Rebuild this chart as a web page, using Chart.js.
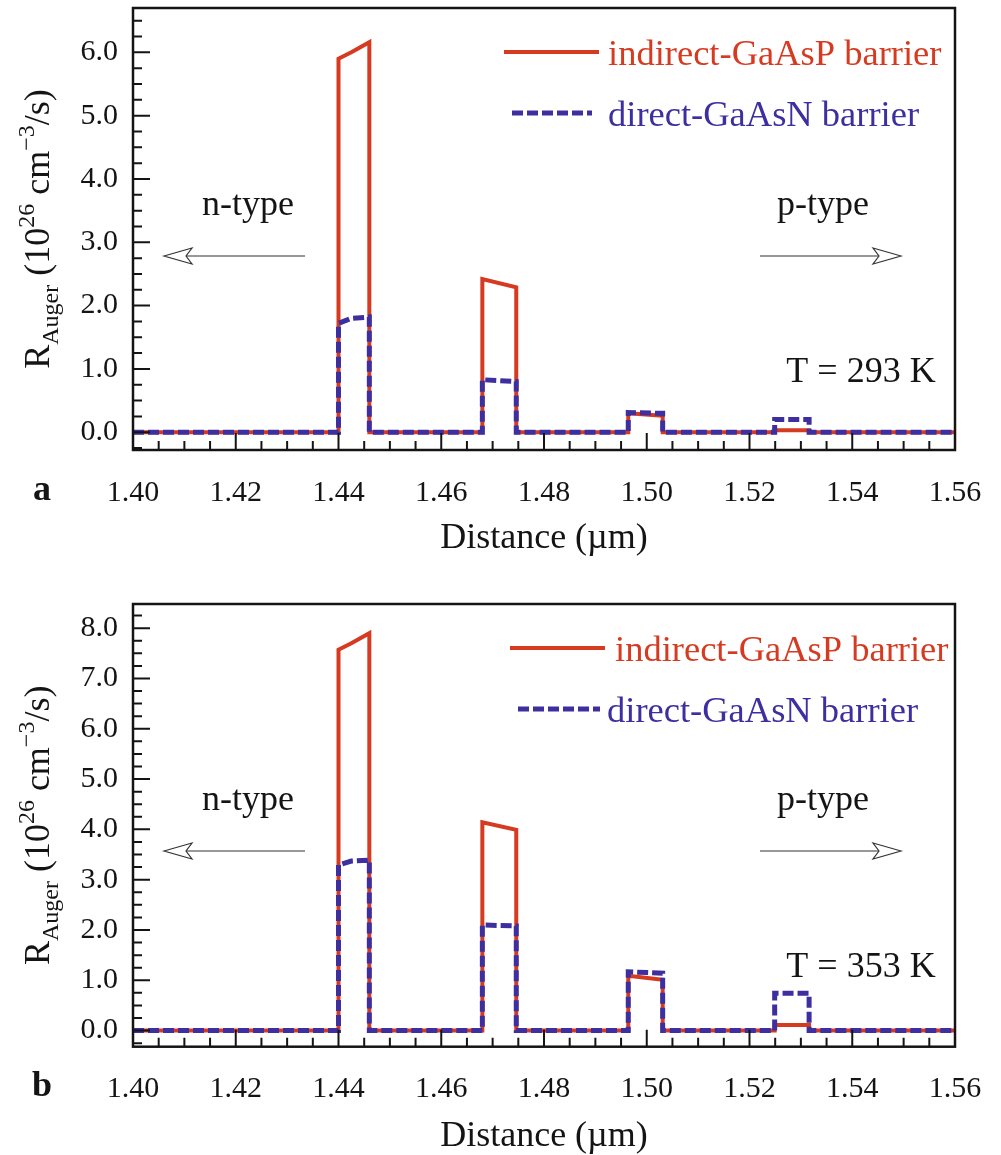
<!DOCTYPE html>
<html>
<head>
<meta charset="utf-8">
<script src="https://cdn.jsdelivr.net/npm/chart.js@4.4.1/dist/chart.umd.min.js"></script>
<style>
  body { margin: 0; background: #fff; }
  canvas { display: block; }
</style>
</head>
<body>
<canvas id="chartA" width="1001" height="575"></canvas>
<canvas id="chartB" width="1001" height="580"></canvas>
<script>
// distance (µm) where the curves change
var distance = [1.400, 1.440, 1.440, 1.4425, 1.446, 1.446, 1.468, 1.468, 1.4746, 1.4746,
  1.4964, 1.4964, 1.5031, 1.5031, 1.5249, 1.5249, 1.5316, 1.5316, 1.560];

// panel a, T = 293 K
var gaasp293 = [0, 0, 5.90, 6.00, 6.16, 0, 0, 2.42, 2.29, 0, 0, 0.30, 0.26, 0, 0, 0.03, 0.03, 0, 0];
var gaasn293 = [0, 0, 1.72, 1.80, 1.82, 0, 0, 0.83, 0.80, 0, 0, 0.31, 0.30, 0, 0, 0.20, 0.20, 0, 0];

// panel b, T = 353 K
var gaasp353 = [0, 0, 7.57, 7.70, 7.90, 0, 0, 4.14, 3.99, 0, 0, 1.09, 1.01, 0, 0, 0.11, 0.11, 0, 0];
var gaasn353 = [0, 0, 3.29, 3.37, 3.39, 0, 0, 2.10, 2.08, 0, 0, 1.17, 1.14, 0, 0, 0.74, 0.74, 0, 0];

var xTickValues = [1.40, 1.42, 1.44, 1.46, 1.48, 1.50, 1.52, 1.54, 1.56];
var yTicks293 = [0, 1, 2, 3, 4, 5, 6];
var yTicks353 = [0, 1, 2, 3, 4, 5, 6, 7, 8];

var seriesNames = ['indirect-GaAsP barrier', 'direct-GaAsN barrier'];

var RED = '#d63b21';
var BLUE = '#3d2f9f';
var INK = '#141414';
var SERIF = '"Liberation Serif", "Times New Roman", serif';

function toPoints(xs, ys) {
  return xs.map(function (x, i) { return { x: x, y: ys[i] }; });
}

function drawArrow(ctx, tail, tip, y) {
  var dir = tip > tail ? 1 : -1;
  var back = tip - dir * 28, notch = tip - dir * 22;
  ctx.beginPath();
  ctx.moveTo(tail, y);
  ctx.lineTo(notch, y);
  ctx.stroke();
  ctx.beginPath();
  ctx.moveTo(tip, y);
  ctx.lineTo(back, y - 8);
  ctx.lineTo(notch, y);
  ctx.lineTo(back, y + 8);
  ctx.closePath();
  ctx.fillStyle = '#fff';
  ctx.fill();
  ctx.stroke();
}

// draws a rotated title with sub/superscripts, baseline at x = bx
function drawRich(ctx, parts, bx, cy) {
  var total = 0;
  parts.forEach(function (p) {
    ctx.font = p[1] + 'px ' + SERIF;
    p.w = ctx.measureText(p[0]).width;
    total += p.w;
  });
  ctx.save();
  ctx.translate(bx, cy);
  ctx.rotate(-Math.PI / 2);
  ctx.fillStyle = INK;
  ctx.textBaseline = 'alphabetic';
  var x = -total / 2;
  parts.forEach(function (p) {
    ctx.font = p[1] + 'px ' + SERIF;
    ctx.fillText(p[0], x, p[2]);
    x += p.w;
  });
  ctx.restore();
}

var panelPlugin = {
  id: 'panel',
  afterDraw: function (chart) {
    var p = chart.options.plugins.panel;
    var ctx = chart.ctx, a = chart.chartArea;
    var xs = chart.scales.x, ys = chart.scales.y;
    ctx.save();

    // inward ticks, majors and minors
    ctx.strokeStyle = INK;
    ctx.lineWidth = 2;
    ctx.beginPath();
    var n = Math.round((xs.max - xs.min) / 0.005);
    for (var i = 0; i <= n; i++) {
      var px = xs.getPixelForValue(xs.min + i * 0.005);
      var len = i % 4 === 0 ? 17 : 9;
      ctx.moveTo(px, a.bottom);
      ctx.lineTo(px, a.bottom - len);
    }
    for (var v = Math.ceil(ys.min / 0.25) * 0.25; v <= ys.max + 1e-9; v += 0.25) {
      var py = ys.getPixelForValue(v);
      var major = Math.abs(v - Math.round(v)) < 1e-6;
      ctx.moveTo(a.left, py);
      ctx.lineTo(a.left + (major ? 17 : 9), py);
    }
    ctx.stroke();

    // frame
    ctx.lineWidth = 2.5;
    ctx.strokeRect(a.left, a.top, a.right - a.left, a.bottom - a.top);

    // legend inside the plot
    chart.data.datasets.forEach(function (ds, k) {
      var lg = p.legend[k];
      ctx.strokeStyle = ds.borderColor;
      ctx.lineWidth = ds.borderWidth;
      ctx.setLineDash(ds.borderDash || []);
      ctx.beginPath();
      ctx.moveTo(lg.x0, lg.y);
      ctx.lineTo(lg.x1, lg.y);
      ctx.stroke();
      ctx.setLineDash([]);
      ctx.fillStyle = ds.borderColor;
      ctx.font = '36.5px ' + SERIF;
      ctx.textAlign = 'left';
      ctx.textBaseline = 'alphabetic';
      ctx.fillText(ds.label, lg.tx, lg.y + 13);
    });

    // n-type / p-type arrows and temperature
    ctx.fillStyle = INK;
    ctx.font = '36px ' + SERIF;
    ctx.textAlign = 'center';
    ctx.fillText('n-type', 248, p.typeY);
    ctx.fillText('p-type', 823, p.typeY);
    ctx.fillText(p.temp, 861, p.tempY);
    ctx.strokeStyle = '#333';
    ctx.lineWidth = 1.2;
    drawArrow(ctx, 305, 164, p.arrowY);
    drawArrow(ctx, 760, 901, p.arrowY);

    // panel letter
    ctx.fillStyle = INK;
    ctx.font = 'bold 36px ' + SERIF;
    ctx.fillText(p.letter, 42, p.letterY);

    ctx.restore();

    drawRich(ctx, [
      ['R', 36, 0], ['Auger', 24, 9], [' (10', 36, 0], ['26', 24, -15],
      [' cm', 36, 0], ['\u22123', 24, -15], ['/s)', 36, 0]
    ], 49, (a.top + a.bottom) / 2);
  }
};

function makeChart(id, red, blue, yMin, yMax, yTicks, padTop, xAxisHeight, tickPad, titlePad, panel) {
  return new Chart(document.getElementById(id).getContext('2d'), {
    type: 'line',
    data: {
      datasets: [
        {
          label: seriesNames[0],
          data: toPoints(distance, red),
          borderColor: RED,
          borderWidth: 4,
          borderJoinStyle: 'miter',
          pointRadius: 0,
          tension: 0,
          order: 2
        },
        {
          label: seriesNames[1],
          data: toPoints(distance, blue),
          borderColor: BLUE,
          borderWidth: 5,
          borderDash: [11, 4],
          borderJoinStyle: 'miter',
          pointRadius: 0,
          tension: 0,
          order: 1
        }
      ]
    },
    options: {
      responsive: false,
      animation: false,
      layout: { padding: { left: 0, right: 46, top: padTop, bottom: 0 } },
      plugins: {
        legend: { display: false },
        tooltip: { enabled: false },
        panel: panel
      },
      scales: {
        x: {
          type: 'linear',
          min: 1.40,
          max: 1.56,
          afterBuildTicks: function (scale) {
            scale.ticks = xTickValues.map(function (v) { return { value: v }; });
          },
          afterFit: function (scale) {
            scale.height = xAxisHeight;
            scale.paddingLeft = 0;
            scale.paddingRight = 0;
          },
          grid: { display: false, drawTicks: false },
          border: { display: false },
          ticks: {
            padding: tickPad,
            color: INK,
            font: { family: SERIF, size: 30 },
            maxRotation: 0,
            callback: function (v) { return v.toFixed(2); }
          },
          title: {
            display: true,
            text: 'Distance (\u00b5m)',
            color: INK,
            font: { family: SERIF, size: 36, lineHeight: 1 },
            padding: { top: 0, bottom: titlePad }
          }
        },
        y: {
          min: yMin,
          max: yMax,
          afterBuildTicks: function (scale) {
            scale.ticks = yTicks.map(function (v) { return { value: v }; });
          },
          afterFit: function (scale) {
            scale.width = 133;
            scale.paddingTop = 0;
            scale.paddingBottom = 0;
          },
          grid: { display: false, drawTicks: false },
          border: { display: false },
          ticks: {
            padding: 15,
            color: INK,
            font: { family: SERIF, size: 30 },
            callback: function (v) { return v.toFixed(1); }
          }
        }
      }
    },
    plugins: [panelPlugin]
  });
}

makeChart('chartA', gaasp293, gaasn293, -0.28, 6.70, yTicks293, 8, 125, 25, 18, {
  letter: 'a', letterY: 500,
  temp: 'T = 293 K', tempY: 382,
  typeY: 215, arrowY: 256,
  legend: [
    { x0: 504, x1: 599, y: 52, tx: 608 },
    { x0: 512, x1: 592, y: 113, tx: 608 }
  ]
});

makeChart('chartB', gaasp353, gaasn353, -0.32, 8.48, yTicks353, 29, 108.3, 24, 0, {
  letter: 'b', letterY: 521,
  temp: 'T = 353 K', tempY: 402,
  typeY: 235, arrowY: 276,
  legend: [
    { x0: 510, x1: 605, y: 73, tx: 615 },
    { x0: 518, x1: 600, y: 134, tx: 607 }
  ]
});
</script>
</body>
</html>
